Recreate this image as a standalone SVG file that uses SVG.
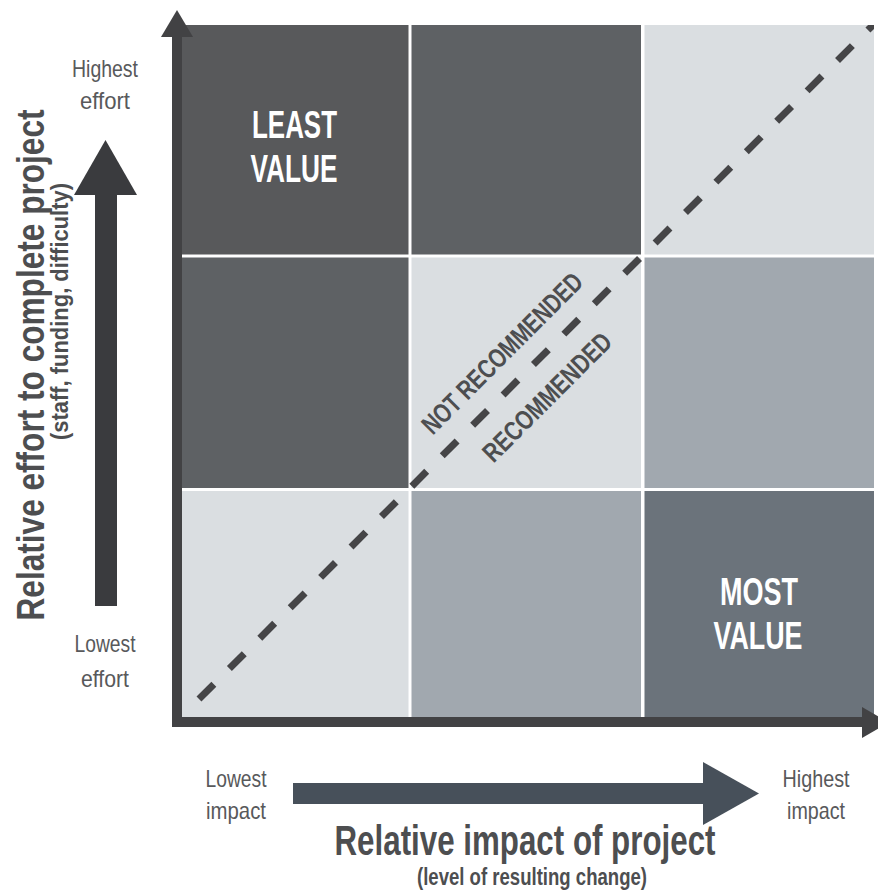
<svg xmlns="http://www.w3.org/2000/svg" width="878" height="892" viewBox="0 0 878 892">
  <defs>
    <style>
      .lbl { font-family: "Liberation Sans Narrow", "Liberation Sans", Arial, sans-serif; font-size: 24px; fill: #58595b; text-anchor: middle; }
      .ttl { font-family: "Liberation Sans Narrow", "Liberation Sans", Arial, sans-serif; font-weight: bold; fill: #4d4e50; text-anchor: middle; }
      .val { font-family: "Liberation Sans Narrow", "Liberation Sans", Arial, sans-serif; font-weight: bold; font-size: 39px; fill: #ffffff; text-anchor: middle; }
      .rec { font-family: "Liberation Sans Narrow", "Liberation Sans", Arial, sans-serif; font-weight: bold; font-size: 27px; fill: #4d4e50; text-anchor: middle; }
    </style>
    <clipPath id="gridclip"><rect x="182" y="25" width="692" height="692"/></clipPath>
  </defs>
  <rect width="878" height="892" fill="#ffffff"/>

  <!-- grid cells -->
  <g id="cells">
    <rect id="cell-tl" x="182" y="25" width="226.5" height="229.5" fill="#58595b"/>
    <rect id="cell-tm" x="411.5" y="25" width="229.5" height="229.5" fill="#5e6164"/>
    <rect id="cell-tr" x="644.5" y="25" width="229.5" height="229.5" fill="#dadee1"/>
    <rect id="cell-ml" x="182" y="257.5" width="226.5" height="230.5" fill="#5e6164"/>
    <rect id="cell-mm" x="411.5" y="257.5" width="229.5" height="230.5" fill="#dadee1"/>
    <rect id="cell-mr" x="644.5" y="257.5" width="229.5" height="230.5" fill="#a1a8af"/>
    <rect id="cell-bl" x="182" y="491" width="226.5" height="226" fill="#dadee1"/>
    <rect id="cell-bm" x="411.5" y="491" width="229.5" height="226" fill="#a1a8af"/>
    <rect id="cell-br" x="644.5" y="491" width="229.5" height="226" fill="#6b737b"/>
  </g>

  <!-- dashed diagonal -->
  <g id="connectors">
    <line x1="199" y1="699" x2="876" y2="22" stroke="#454547" stroke-width="7" stroke-dasharray="21 22" clip-path="url(#gridclip)"/>
    <!-- axes -->
    <rect x="172" y="36" width="10" height="691" fill="#424244"/>
    <polygon points="161,37 193,37 177,10" fill="#424244"/>
    <rect x="172" y="717" width="691" height="10" fill="#424244"/>
    <polygon points="862,707 862,738 889,722.5" fill="#424244"/>
    <!-- left arrow -->
    <rect x="95" y="194" width="22" height="412" fill="#3a3b3e"/>
    <polygon points="74,195 137,195 105.5,140" fill="#3a3b3e"/>
    <!-- bottom arrow -->
    <rect x="293" y="783" width="411" height="21" fill="#47505a"/>
    <polygon points="703,762 703,825 759,793.5" fill="#47505a"/>
  </g>

  <g id="least-value">
    <text class="val" x="294.5" y="138" textLength="85" lengthAdjust="spacingAndGlyphs">LEAST</text>
    <text class="val" x="294" y="182" textLength="87" lengthAdjust="spacingAndGlyphs">VALUE</text>
  </g>
  <g id="most-value">
    <text class="val" x="759" y="605" textLength="78" lengthAdjust="spacingAndGlyphs">MOST</text>
    <text class="val" x="758" y="649" textLength="89" lengthAdjust="spacingAndGlyphs">VALUE</text>
  </g>

  <g id="not-recommended" transform="translate(502,353) rotate(-45)">
    <text class="rec" x="0" y="9.5" textLength="215" lengthAdjust="spacingAndGlyphs">NOT RECOMMENDED</text>
  </g>
  <g id="recommended" transform="translate(547,397) rotate(-45)">
    <text class="rec" x="0" y="9.5" textLength="170" lengthAdjust="spacingAndGlyphs">RECOMMENDED</text>
  </g>

  <g id="label-highest-effort">
    <text class="lbl" x="105" y="77" textLength="66" lengthAdjust="spacingAndGlyphs">Highest</text>
    <text class="lbl" x="105" y="109" textLength="50" lengthAdjust="spacingAndGlyphs">effort</text>
  </g>
  <g id="label-lowest-effort">
    <text class="lbl" x="105" y="652" textLength="61" lengthAdjust="spacingAndGlyphs">Lowest</text>
    <text class="lbl" x="105" y="687" textLength="48" lengthAdjust="spacingAndGlyphs">effort</text>
  </g>
  <g id="label-lowest-impact">
    <text class="lbl" x="236" y="787" textLength="61" lengthAdjust="spacingAndGlyphs">Lowest</text>
    <text class="lbl" x="236" y="819" textLength="60" lengthAdjust="spacingAndGlyphs">impact</text>
  </g>
  <g id="label-highest-impact">
    <text class="lbl" x="816" y="787" textLength="67" lengthAdjust="spacingAndGlyphs">Highest</text>
    <text class="lbl" x="816" y="819" textLength="58" lengthAdjust="spacingAndGlyphs">impact</text>
  </g>

  <g id="title-x">
    <text class="ttl" x="525" y="855" font-size="42" textLength="381" lengthAdjust="spacingAndGlyphs">Relative impact of project</text>
    <text class="ttl" x="532" y="885" font-size="24" textLength="230" lengthAdjust="spacingAndGlyphs">(level of resulting change)</text>
  </g>
  <g id="title-y">
    <text class="ttl" transform="translate(44,365) rotate(-90)" x="0" y="0" font-size="39.5" textLength="511" lengthAdjust="spacingAndGlyphs">Relative effort to complete project</text>
    <text class="ttl" transform="translate(68,311.5) rotate(-90)" x="0" y="0" font-size="23" textLength="257" lengthAdjust="spacingAndGlyphs">(staff, funding, difficulty)</text>
  </g>
</svg>
